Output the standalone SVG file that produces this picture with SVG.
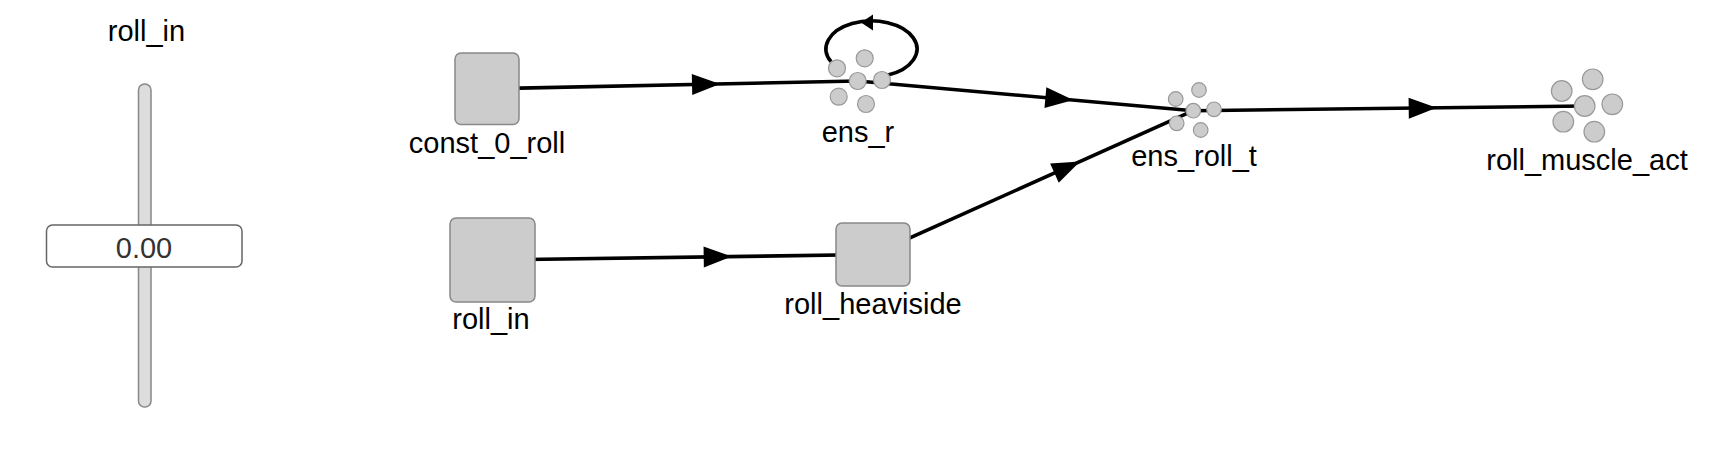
<svg xmlns="http://www.w3.org/2000/svg" xmlns:xlink="http://www.w3.org/1999/xlink" width="1736" height="450" viewBox="0 0 1736 450">
<style>
text{font-family:"Liberation Sans",Arial,Helvetica,sans-serif;font-size:29px;fill:#000;text-anchor:middle}
.box{fill:#cccccc;stroke:#888888;stroke-width:1.5}
.neu{fill:#cccccc;stroke:#999999;stroke-width:1.2}
.conn{stroke:#000;stroke-width:3.6;fill:none}
.val{fill:#333}
</style>
<defs>
<path id="arr" d="M0,0 L-28,-10.5 L-28,10.5 Z" fill="#000"/>
</defs>
<g id="slider">
<text x="146.5" y="41">roll_in</text>
<rect x="138.5" y="84" width="12.5" height="323" rx="6" fill="#dddddd" stroke="#888888" stroke-width="1.5"/>
<rect x="46.5" y="225" width="195.5" height="42" rx="6" fill="#ffffff" stroke="#666666" stroke-width="1.5"/>
<text class="val" x="144" y="258">0.00</text>
</g>
<g id="connectors">
<line class="conn" x1="487" y1="88.8" x2="857.7" y2="81"/>
<use xlink:href="#arr" transform="translate(720,83.9) rotate(-1.2)"/>
<line class="conn" x1="492.5" y1="260" x2="873" y2="254.5"/>
<use xlink:href="#arr" transform="translate(731.7,256.5) rotate(-0.83)"/>
<line class="conn" x1="857.7" y1="81" x2="1193.3" y2="110.7"/>
<use xlink:href="#arr" transform="translate(1073.3,100.1) rotate(5.06)"/>
<line class="conn" x1="873" y1="254.5" x2="1193.3" y2="110.7"/>
<use xlink:href="#arr" transform="translate(1080,161.6) rotate(-24.18)"/>
<line class="conn" x1="1193.3" y1="110.7" x2="1584.7" y2="106"/>
<use xlink:href="#arr" transform="translate(1436.7,107.8) rotate(-0.69)"/>
<path class="conn" d="M 888 75 A 45.5 28 0 1 0 831 61.7"/>
<path d="M 861 22.5 L 873 14.5 L 873 30.5 Z" fill="#000"/>
</g>
<g id="const_0_roll">
<rect class="box" x="455" y="53" width="64" height="71.5" rx="6"/>
<text x="487" y="153">const_0_roll</text>
</g>
<g id="roll_in">
<rect class="box" x="450" y="218" width="85" height="84" rx="6"/>
<text x="491" y="329">roll_in</text>
</g>
<g id="roll_heaviside">
<rect class="box" x="836" y="223" width="74" height="63" rx="6"/>
<text x="873" y="314">roll_heaviside</text>
</g>
<g id="ens_r">
<circle class="neu" cx="837" cy="68.3" r="8.5"/>
<circle class="neu" cx="864.7" cy="58.3" r="8.5"/>
<circle class="neu" cx="857.7" cy="81" r="8.5"/>
<circle class="neu" cx="882" cy="80" r="8.5"/>
<circle class="neu" cx="838.7" cy="96.7" r="8.5"/>
<circle class="neu" cx="866" cy="104" r="8.5"/>
<text x="858" y="141.7">ens_r</text>
</g>
<g id="ens_roll_t">
<circle class="neu" cx="1175.7" cy="99" r="7.3"/>
<circle class="neu" cx="1199" cy="90" r="7.3"/>
<circle class="neu" cx="1193.3" cy="110.7" r="7.3"/>
<circle class="neu" cx="1214" cy="109.3" r="7.3"/>
<circle class="neu" cx="1176.7" cy="123.3" r="7.3"/>
<circle class="neu" cx="1200.7" cy="130" r="7.3"/>
<text x="1194" y="166">ens_roll_t</text>
</g>
<g id="roll_muscle_act">
<circle class="neu" cx="1561.7" cy="91" r="10.3"/>
<circle class="neu" cx="1592.7" cy="79.3" r="10.3"/>
<circle class="neu" cx="1584.7" cy="106" r="10.3"/>
<circle class="neu" cx="1612.3" cy="104.3" r="10.3"/>
<circle class="neu" cx="1563.3" cy="121.7" r="10.3"/>
<circle class="neu" cx="1594.3" cy="131.7" r="10.3"/>
<text x="1587" y="170">roll_muscle_act</text>
</g>
</svg>
